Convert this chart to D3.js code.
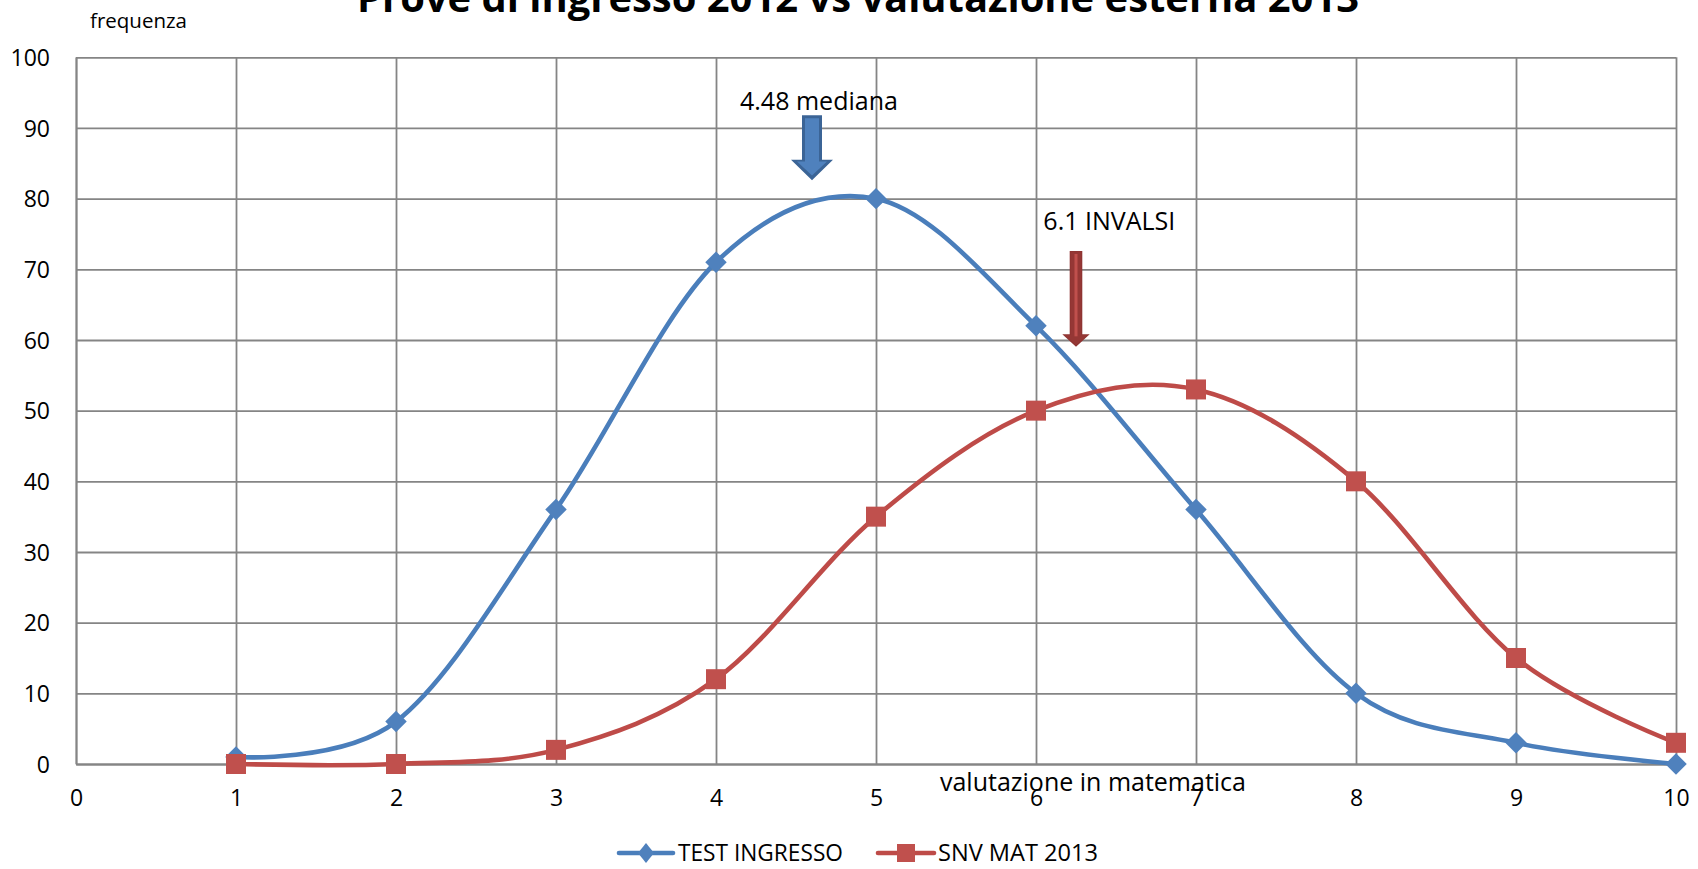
<!DOCTYPE html>
<html>
<head>
<meta charset="utf-8">
<script src="https://cdn.jsdelivr.net/npm/d3@7"></script>
<style>
  body { margin: 0; background: #fff; }
  svg { display: block; font-family: "Open Sans", sans-serif; }
</style>
</head>
<body>
<svg width="1698" height="869"></svg>
<script>
// data
var voti = [1, 2, 3, 4, 5, 6, 7, 8, 9, 10];
var testIngresso = [1, 6, 36, 71, 80, 62, 36, 10, 3, 0];
var snvMat = [0, 0, 2, 12, 35, 50, 53, 40, 15, 3];
var xTicks = [0, 1, 2, 3, 4, 5, 6, 7, 8, 9, 10];
var yTicks = [0, 10, 20, 30, 40, 50, 60, 70, 80, 90, 100];
var seriesNames = ["TEST INGRESSO", "SNV MAT 2013"];
var seriesColors = ["#4A7EBB", "#BE4B48"];
var markerColors = ["#4F81BD", "#C0504D"];

// arrows: x, top, start of head, tip (data units)
var arrowMediana = { x: 4.6, top: 91.8, head: 85.5, tip: 82.6 };
var arrowInvalsi = { x: 6.25, top: 72.6, head: 60.8, tip: 59.05 };
var noteMediana = { x: 4.15, y: 92.5, text: "4.48 mediana" };
var noteInvalsi = { x: 6.046, y: 75.6, text: "6.1 INVALSI" };

var svg = d3.select("svg"),
    margin = { top: 57.3, right: 22, bottom: 105, left: 76 },
    width = +svg.attr("width") - margin.left - margin.right,
    height = +svg.attr("height") - margin.top - margin.bottom;

var x = d3.scaleLinear().domain([0, 10]).range([0, width]);
var y = d3.scaleLinear().domain([0, 100]).range([height, 0]);

var g = svg.append("g")
    .attr("transform", "translate(" + margin.left + "," + margin.top + ")");

// grid + labels
var gy = g.append("g")
    .call(d3.axisLeft(y).tickValues(yTicks).tickSize(-width).tickSizeOuter(0).tickPadding(26));
var gx = g.append("g")
    .attr("transform", "translate(0," + height + ")")
    .call(d3.axisBottom(x).tickValues(xTicks).tickSize(-height).tickSizeOuter(0).tickPadding(26));

[gx, gy].forEach(function (ax) {
    ax.selectAll("line, path").attr("stroke", "#858585").attr("stroke-width", 1.8);
    ax.selectAll("text")
        .attr("font-family", "'Open Sans', sans-serif")
        .attr("font-size", 23)
        .attr("fill", "#000");
});
gy.selectAll("text").attr("dy", "0.36em");

// smoothed lines
var line = d3.line()
    .x(function (d) { return x(d[0]); })
    .y(function (d) { return y(d[1]); })
    .curve(d3.curveCardinal.tension(0));

[testIngresso, snvMat].forEach(function (vals, i) {
    var pts = voti.map(function (v, j) { return [v, vals[j]]; });
    g.append("path")
        .datum(pts)
        .attr("fill", "none")
        .attr("stroke", seriesColors[i])
        .attr("stroke-width", 4.6)
        .attr("stroke-linejoin", "round")
        .attr("d", line);
});

// markers
var diamond = d3.symbol().type(d3.symbolSquare).size(230);
var square = d3.symbol().type(d3.symbolSquare).size(400);

g.selectAll(".m0")
    .data(testIngresso)
    .enter().append("path")
    .attr("class", "m0")
    .attr("d", diamond)
    .attr("fill", markerColors[0])
    .attr("transform", function (d, j) {
        return "translate(" + x(voti[j]) + "," + y(d) + ") rotate(45)";
    });

g.selectAll(".m1")
    .data(snvMat)
    .enter().append("path")
    .attr("class", "m1")
    .attr("d", square)
    .attr("fill", markerColors[1])
    .attr("transform", function (d, j) {
        return "translate(" + x(voti[j]) + "," + y(d) + ")";
    });

// block arrows
function blockArrow(a, shaftHalf, headHalf) {
    var cx = x(a.x);
    return [
        [cx - shaftHalf, y(a.top)], [cx + shaftHalf, y(a.top)],
        [cx + shaftHalf, y(a.head)], [cx + headHalf, y(a.head)],
        [cx, y(a.tip)],
        [cx - headHalf, y(a.head)], [cx - shaftHalf, y(a.head)]
    ];
}
function drawArrow(a, shaftHalf, headHalf, dark, light, inset) {
    g.append("polygon")
        .attr("points", blockArrow(a, shaftHalf, headHalf).join(" "))
        .attr("fill", dark);
    var inner = {
        x: a.x,
        top: y.invert(y(a.top) + inset),
        head: y.invert(y(a.head) + inset * 0.6),
        tip: y.invert(y(a.tip) - inset * 1.6)
    };
    g.append("polygon")
        .attr("points", blockArrow(inner, shaftHalf - inset, headHalf - inset * 2).join(" "))
        .attr("fill", light);
}
drawArrow(arrowMediana, 10, 21, "#3B6496", "#4F81BD", 3);
drawArrow(arrowInvalsi, 6.3, 13.7, "#8E3432", "#953735", 1);
// light stripe on red arrow
g.append("line")
    .attr("x1", x(arrowInvalsi.x)).attr("x2", x(arrowInvalsi.x))
    .attr("y1", y(arrowInvalsi.top) + 3).attr("y2", y(arrowInvalsi.head) + 2)
    .attr("stroke", "#C0504D").attr("stroke-width", 3);

// annotations
[noteMediana, noteInvalsi].forEach(function (n) {
    g.append("text")
        .attr("x", x(n.x))
        .attr("y", y(n.y))
        .attr("font-size", 25)
        .attr("fill", "#000")
        .text(n.text);
});

// titles
svg.append("text")
    .attr("x", 858)
    .attr("y", 12)
    .attr("text-anchor", "middle")
    .attr("font-size", 40)
    .attr("font-weight", "bold")
    .attr("textLength", 1002)
    .attr("lengthAdjust", "spacingAndGlyphs")
    .text("Prove di ingresso 2012 vs valutazione esterna 2013");

svg.append("text")
    .attr("x", 90)
    .attr("y", 28)
    .attr("font-size", 20.5)
    .text("frequenza");

svg.append("text")
    .attr("x", 1093)
    .attr("y", 791)
    .attr("text-anchor", "middle")
    .attr("font-size", 25)
    .text("valutazione in matematica");

// legend
var legend = [
    { x0: 619, x1: 673, tx: 678, tl: 165 },
    { x0: 878, x1: 934, tx: 938, tl: 160 }
];
var ly = 853;
legend.forEach(function (l, i) {
    svg.append("line")
        .attr("x1", l.x0).attr("x2", l.x1)
        .attr("y1", ly).attr("y2", ly)
        .attr("stroke", seriesColors[i])
        .attr("stroke-width", 4.6)
        .attr("stroke-linecap", "round");
    var cx = (l.x0 + l.x1) / 2;
    if (i === 0) {
        svg.append("path")
            .attr("d", "M0,-10L8,0L0,10L-8,0Z")
            .attr("fill", markerColors[0])
            .attr("transform", "translate(" + cx + "," + ly + ")");
    } else {
        svg.append("rect")
            .attr("x", cx - 9).attr("y", ly - 9)
            .attr("width", 18).attr("height", 18)
            .attr("fill", markerColors[1]);
    }
    svg.append("text")
        .attr("x", l.tx)
        .attr("y", ly + 8)
        .attr("font-size", 23)
        .attr("textLength", l.tl)
        .attr("lengthAdjust", "spacingAndGlyphs")
        .text(seriesNames[i]);
});
</script>
</body>
</html>
